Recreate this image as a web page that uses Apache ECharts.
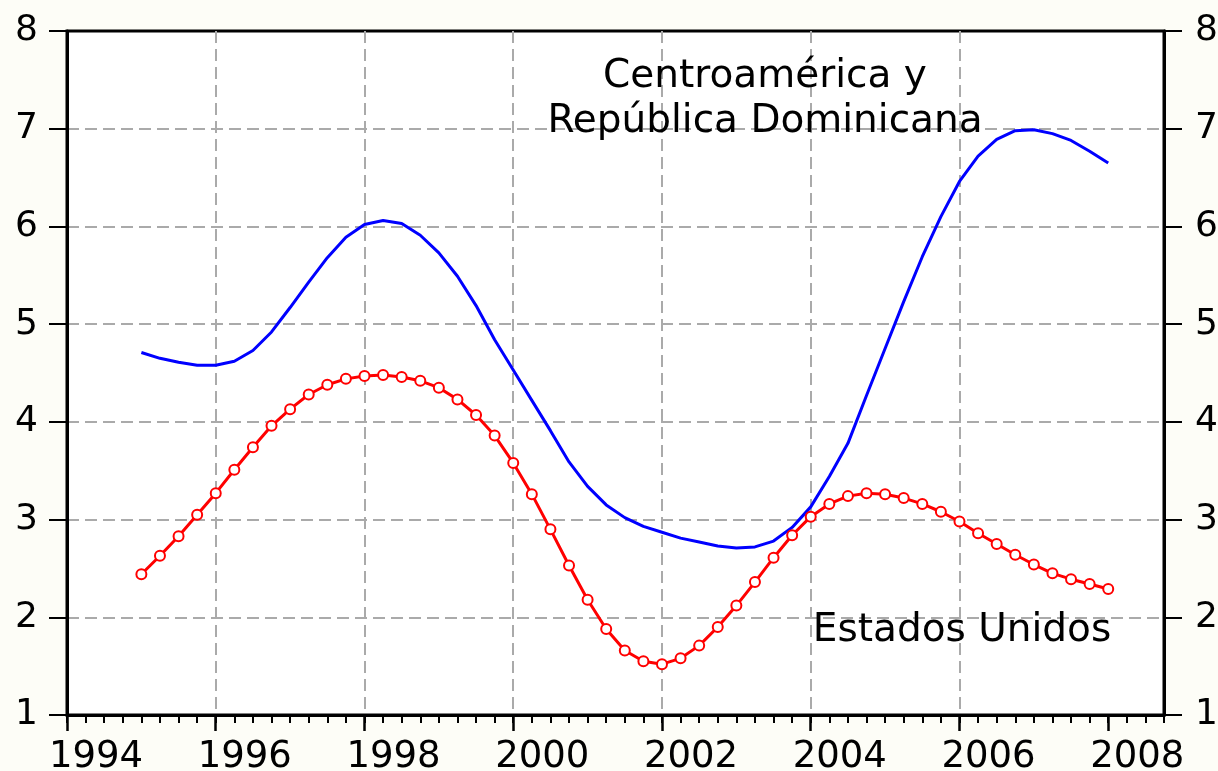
<!DOCTYPE html>
<html><head><meta charset="utf-8">
<script src="https://cdn.jsdelivr.net/npm/echarts@6/dist/echarts.min.js"></script>
<style>html,body{margin:0;padding:0;background:#fdfdf7;}#c{width:1218px;height:771px;}</style>
</head><body><div id="c"></div>
<script>
// Quarterly observations, 1995Q1 .. 2008Q1
const firstYear = 1995;
const estadosUnidos = [2.44,2.63,2.83,3.05,3.27,3.51,3.74,3.96,4.13,4.28,
  4.38,4.44,4.47,4.48,4.46,4.42,4.35,4.23,4.07,3.86,
  3.58,3.26,2.90,2.53,2.18,1.88,1.66,1.55,1.52,1.58,
  1.71,1.90,2.12,2.36,2.61,2.84,3.03,3.16,3.24,3.27,
  3.26,3.22,3.16,3.08,2.98,2.86,2.75,2.64,2.54,2.45,
  2.39,2.34,2.29];
const centroamerica = [4.71,4.65,4.61,4.58,4.58,4.62,4.73,4.92,5.17,5.43,
  5.68,5.89,6.02,6.06,6.03,5.91,5.73,5.49,5.19,4.84,
  4.53,4.22,3.91,3.59,3.34,3.15,3.02,2.93,2.87,2.81,
  2.77,2.73,2.71,2.72,2.78,2.92,3.13,3.44,3.78,4.27,
  4.75,5.23,5.69,6.10,6.46,6.72,6.89,6.98,6.99,6.95,
  6.88,6.77,6.65];
const yearLabels = [1994,1996,1998,2000,2002,2004,2006,2008];
const labelCA1 = 'Centroamérica y';
const labelCA2 = 'República Dominicana';
const labelUS = 'Estados Unidos';

const qx = i => firstYear + i * 0.25;
const usData = estadosUnidos.map((v, i) => [qx(i), v]);
const caData = centroamerica.map((v, i) => [qx(i), v]);

const FONT = 'DejaVu Sans';
const chart = echarts.init(document.getElementById('c'), null, {renderer: 'canvas'});
const gridLine = {show: true, showMinLine: false, showMaxLine: false,
  lineStyle: {color: '#aaaaaa', width: 2, type: [12, 6]}};
const yAxisBase = {
  type: 'value', min: 1, max: 8, interval: 1,
  axisLine: {show: true, lineStyle: {color: '#000', width: 3}},
  axisTick: {show: true, length: 18, lineStyle: {color: '#000', width: 2}},
  splitLine: gridLine
};
const annFont = '39px "DejaVu Sans"';
chart.setOption({
  animation: false,
  backgroundColor: '#fdfdf7',
  grid: {left: 67, right: 54, top: 31, bottom: 56, show: true, backgroundColor: '#ffffff',
         borderColor: '#000', borderWidth: 3, containLabel: false, outerBoundsMode: 'none'},
  xAxis: [{
    type: 'value', min: 1994, max: 2008.75, interval: 2, position: 'bottom',
    axisLine: {show: true, lineStyle: {color: '#000', width: 3}},
    axisTick: {show: true, length: 16, customValues: yearLabels, lineStyle: {color: '#000', width: 2.5}},
    axisLabel: {show: true, customValues: yearLabels, margin: 24, fontFamily: FONT, fontSize: 37, color: '#000',
                padding: [0, 0, 0, 58], formatter: v => String(v)},
    splitLine: gridLine
  }, {
    type: 'value', min: 1994, max: 2008.75, interval: 0.25, position: 'bottom', offset: 0,
    axisLine: {show: false},
    axisTick: {show: true, length: 8, lineStyle: {color: '#000', width: 2}},
    axisLabel: {show: false},
    splitLine: {show: false}
  }],
  yAxis: [
    Object.assign({}, yAxisBase, {position: 'left',
      axisLabel: {margin: 29, fontFamily: FONT, fontSize: 36, color: '#000'}}),
    Object.assign({}, yAxisBase, {position: 'right', splitLine: {show: false},
      axisLabel: {margin: 31, fontFamily: FONT, fontSize: 36, color: '#000'}})
  ],
  series: [{
    name: labelCA2, type: 'line', data: caData, xAxisIndex: 0, yAxisIndex: 0,
    showSymbol: false, lineStyle: {color: '#0000ff', width: 3}, itemStyle: {color: '#0000ff'}, z: 3
  }, {
    name: labelUS, type: 'line', data: usData, xAxisIndex: 0, yAxisIndex: 0,
    symbol: 'circle', symbolSize: 10, showSymbol: true,
    lineStyle: {color: '#ff0000', width: 3},
    itemStyle: {color: '#ffffff', borderColor: '#ff0000', borderWidth: 2}, z: 4
  }],
  graphic: [
    {type: 'text', x: 765, y: 57, z: 10, style: {text: labelCA1, font: annFont, fill: '#000', textAlign: 'center'}},
    {type: 'text', x: 765, y: 102, z: 10, style: {text: labelCA2, font: annFont, fill: '#000', textAlign: 'center'}},
    {type: 'text', x: 962, y: 611, z: 10, style: {text: labelUS, font: annFont, fill: '#000', textAlign: 'center'}}
  ]
});
</script></body></html>
